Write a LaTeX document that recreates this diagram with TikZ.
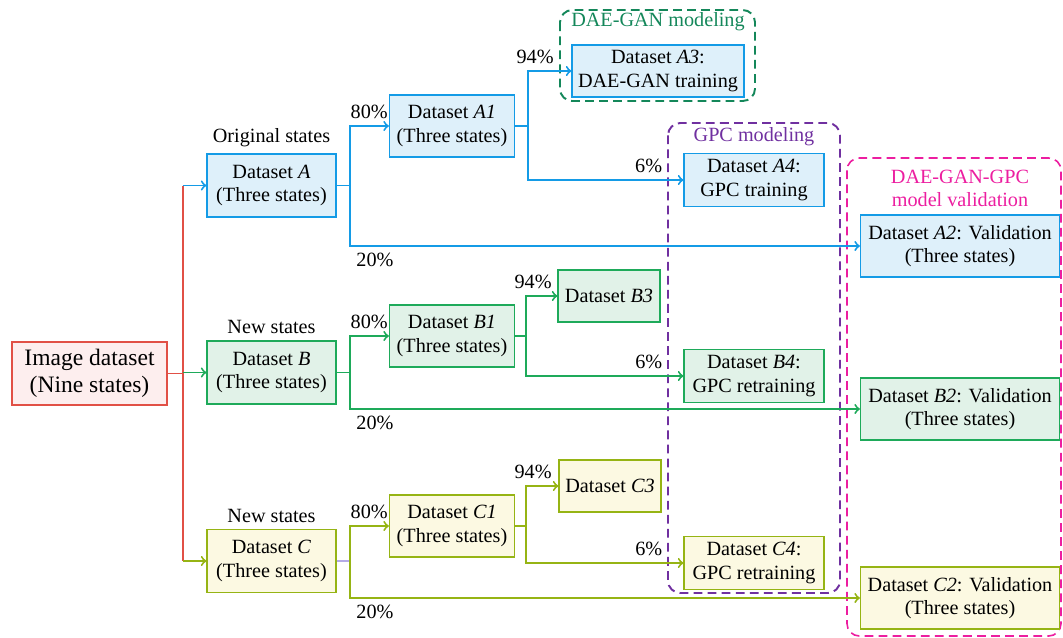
\documentclass[tikz,border=0pt]{standalone}
\usepackage{fontspec}
\setmainfont{Liberation Serif}
\usetikzlibrary{positioning}

\definecolor{cblue}{RGB}{20,155,230}
\definecolor{fblue}{RGB}{222,240,250}
\definecolor{cgreen}{RGB}{30,170,90}
\definecolor{fgreen}{RGB}{225,242,232}
\definecolor{colive}{RGB}{150,180,20}
\definecolor{folive}{RGB}{252,249,226}
\definecolor{cred}{RGB}{225,80,70}
\definecolor{fred}{RGB}{253,238,238}
\definecolor{cdae}{RGB}{20,135,90}
\definecolor{cgpc}{RGB}{112,48,160}
\definecolor{cval}{RGB}{236,30,160}
\definecolor{clav}{RGB}{180,170,230}

\newcommand{\fsbox}{\fontsize{11.5}{13.2}\selectfont}
\newcommand{\fsbig}{\fontsize{13.4}{15.5}\selectfont}

\tikzset{
	box/.style={draw, line width=0.7pt, inner sep=1pt, align=center, font=\fsbox},
	boxA/.style={box, draw=cblue, fill=fblue},
	boxB/.style={box, draw=cgreen, fill=fgreen},
	boxC/.style={box, draw=colive, fill=folive},
	lab/.style={font=\fsbox, align=center, text=black},
	bline/.style={cblue, line width=1.1pt},
	gline/.style={cgreen, line width=1.1pt},
	oline/.style={colive, line width=1.1pt},
	rline/.style={cred, line width=1.1pt},
	frame/.style={dash pattern=on 5pt off 3pt, line width=1.1pt, rounded corners=7pt},
}

\begin{document}
\begin{tikzpicture}[x=0.02cm, y=-0.02cm]
	\useasboundingbox (0,0) rectangle (1063,637);

	\draw[frame, cdae] (560,10) rectangle (755,101);
	\draw[frame, cgpc] (668,123) rectangle (840,593);
	\draw[frame, cval, line width=0.9pt] (847,158) rectangle (1061,636);
	\node[lab, text=cdae] (tDAE) at (658,22) {DAE-GAN modeling};
	\node[lab, text=cgpc] (tGPC) at (754,137) {GPC modeling};
	\node[lab, text=cval] (tVAL) at (960,188) {DAE-GAN-GPC\\model validation};

	\node[box, draw=cred, fill=fred, font=\fsbig, minimum width=3.1cm, minimum height=1.26cm] (img) at (89.5,373.5) {Image dataset\\(Nine states)};

	\node[boxA, minimum width=2.58cm, minimum height=1.26cm] (A) at (271.5,185.5) {Dataset \textit{A}\\(Three states)};
	\node[boxB, minimum width=2.58cm, minimum height=1.26cm] (B) at (271.5,372.5) {Dataset \textit{B}\\(Three states)};
	\node[boxC, minimum width=2.58cm, minimum height=1.26cm] (C) at (271.5,561) {Dataset \textit{C}\\(Three states)};
	\node[lab, above=0pt of A] (oA) {Original states};
	\node[lab, above=0pt of B] (nB) {New states};
	\node[lab, above=0pt of C] (nC) {New states};

	\node[boxA, minimum width=2.5cm, minimum height=1.24cm] (A1) at (452,126) {Dataset \textit{A1}\\(Three states)};
	\node[boxB, minimum width=2.5cm, minimum height=1.24cm] (B1) at (452,336) {Dataset \textit{B1}\\(Three states)};
	\node[boxC, minimum width=2.5cm, minimum height=1.24cm] (C1) at (452,526) {Dataset \textit{C1}\\(Three states)};

	\node[boxA, minimum width=3.44cm, minimum height=1.04cm] (A3) at (658,71) {Dataset \textit{A3}:\\DAE-GAN training};
	\node[boxB, minimum width=2.04cm, minimum height=1.04cm] (B3) at (609,296) {Dataset \textit{B3}};
	\node[boxC, minimum width=2.04cm, minimum height=1.04cm] (C3) at (610,486) {Dataset \textit{C3}};

	\node[boxA, minimum width=2.8cm, minimum height=1.06cm] (A4) at (754,180) {Dataset \textit{A4}:\\GPC training};
	\node[boxB, minimum width=2.8cm, minimum height=1.06cm] (B4) at (754,376) {Dataset \textit{B4}:\\GPC retraining};
	\node[boxC, minimum width=2.8cm, minimum height=1.06cm] (C4) at (754,563) {Dataset \textit{C4}:\\GPC retraining};

	\node[boxA, minimum width=3.98cm, minimum height=1.24cm] (A2) at (960,246) {Dataset \textit{A2}: Validation\\(Three states)};
	\node[boxB, minimum width=3.98cm, minimum height=1.24cm] (B2) at (960,409) {Dataset \textit{B2}: Validation\\(Three states)};
	\node[boxC, minimum width=3.98cm, minimum height=1.24cm] (C2) at (960,598) {Dataset \textit{C2}: Validation\\(Three states)};

	\draw[rline] (img.east) -- ++(15,0) coordinate (tr);
	\draw[rline] (tr |- A.west) -- (tr |- C.west);
	\draw[bline, ->] (tr |- A.west) -- (A.west);
	\draw[gline, ->] (tr |- B.west) -- (B.west);
	\draw[oline, ->] (tr |- C.west) -- (C.west);

	\draw[bline] (A.east) -- ++(13,0) coordinate (sA);
	\draw[bline, ->] (sA) |- (A1.west) node[pos=0.75, above, lab] {80\%};
	\draw[bline, ->] (sA) |- (A2.west) node[pos=0.5, below right, lab] {20\%};
	\draw[bline] (A1.east) -- ++(13,0) coordinate (sA1);
	\draw[bline, ->] (sA1) |- (A3.west) node[pos=0.5, above, xshift=4pt, lab] {94\%};
	\draw[bline, ->] (sA1) |- (A4.west) node[pos=0.888, above, lab] {6\%};

	\draw[gline] (B.east) -- ++(13,0) coordinate (sB);
	\draw[gline, ->] (sB) |- (B1.west) node[pos=0.75, above, lab] {80\%};
	\draw[gline, ->] (sB) |- (B2.west) node[pos=0.5, below right, lab] {20\%};
	\draw[gline] (B1.east) -- ++(11,0) coordinate (sB1);
	\draw[gline, ->] (sB1) |- (B3.west) node[pos=0.5, above, xshift=4pt, lab] {94\%};
	\draw[gline, ->] (sB1) |- (B4.west) node[pos=0.89, above, lab] {6\%};

	\draw[clav, line width=1.1pt] (C.east) -- ++(13,0) coordinate (sC);
	\draw[oline, ->] (sC) |- (C1.west) node[pos=0.75, above, lab] {80\%};
	\draw[oline, ->] (sC) |- (C2.west) node[pos=0.5, below right, lab] {20\%};
	\draw[oline] (C1.east) -- ++(11,0) coordinate (sC1);
	\draw[oline, ->] (sC1) |- (C3.west) node[pos=0.5, above, xshift=4pt, lab] {94\%};
	\draw[oline, ->] (sC1) |- (C4.west) node[pos=0.89, above, lab] {6\%};
\end{tikzpicture}
\end{document}
